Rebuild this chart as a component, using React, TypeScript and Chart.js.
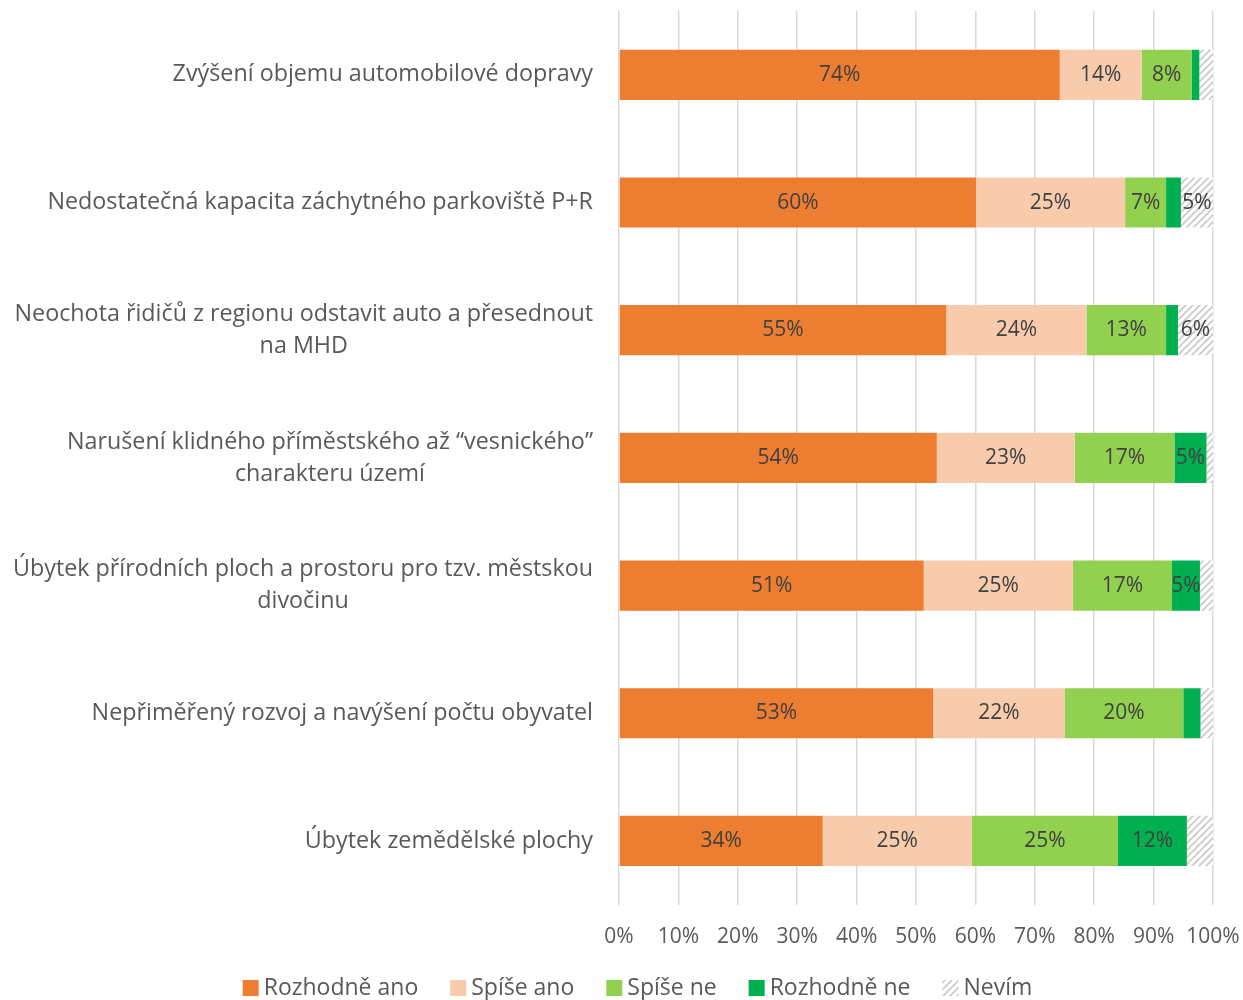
import React, { useEffect, useRef } from "react";
import { Chart, registerables } from "chart.js";
Chart.register(...registerables);

const categories: string[][] = [
  ["Zvýšení objemu automobilové dopravy"],
  ["Nedostatečná kapacita záchytného parkoviště P+R"],
  ["Neochota řidičů z regionu odstavit auto a přesednout", "na MHD"],
  ["Narušení klidného příměstského až “vesnického”", "charakteru území"],
  ["Úbytek přírodních ploch a prostoru pro tzv. městskou", "divočinu"],
  ["Nepřiměřený rozvoj a navýšení počtu obyvatel"],
  ["Úbytek zemědělské plochy"],
];
const seriesNames = ["Rozhodně ano", "Spíše ano", "Spíše ne", "Rozhodně ne", "Nevím"];
const rozhodneAno = [74.2, 60.1, 55.1, 53.5, 51.3, 52.9, 34.3];
const spiseAno = [13.8, 25.1, 23.6, 23.2, 25.1, 22.1, 25.1];
const spiseNe = [8.4, 6.9, 13.4, 16.8, 16.7, 20.0, 24.6];
const rozhodneNe = [1.3, 2.5, 2.0, 5.4, 4.7, 2.9, 11.6];
const nevim = [2.3, 5.4, 5.9, 1.1, 2.2, 2.1, 4.4];
const xTickValues = [0, 10, 20, 30, 40, 50, 60, 70, 80, 90, 100];

const FONT = "'Open Sans', 'Noto Sans', sans-serif";

function makeHatch(): CanvasPattern | string {
  const c = document.createElement("canvas");
  c.width = 7;
  c.height = 7;
  const g = c.getContext("2d");
  if (!g) return "#ddd";
  g.fillStyle = "#ffffff";
  g.fillRect(0, 0, 7, 7);
  g.strokeStyle = "#c9c9c9";
  g.lineWidth = 1.6;
  g.beginPath();
  g.moveTo(-1, 8);
  g.lineTo(8, -1);
  g.moveTo(-4, 4);
  g.lineTo(4, -4);
  g.moveTo(3, 11);
  g.lineTo(11, 3);
  g.stroke();
  const p = g.createPattern(c, "repeat");
  return p || "#ddd";
}

export default function App() {
  const ref = useRef<HTMLCanvasElement | null>(null);
  useEffect(() => {
    document.body.style.margin = "0";
    const canvas = ref.current;
    if (!canvas) return;
    const hatch = makeHatch();
    const colors: any[] = ["#ED7D31", "#F8CBAD", "#92D050", "#00B050", hatch];
    const values = [rozhodneAno, spiseAno, spiseNe, rozhodneNe, nevim];

    const yLabelPlugin = {
      id: "yLabels",
      afterDraw(chart: any) {
        const ctx = chart.ctx;
        const yScale = chart.scales.y;
        const right = chart.chartArea.left - 26;
        ctx.save();
        ctx.font = `23.3px ${FONT}`;
        ctx.fillStyle = "#595959";
        ctx.textAlign = "center";
        ctx.textBaseline = "middle";
        categories.forEach((lines, i) => {
          const y = yScale.getPixelForValue(i);
          const w = Math.max(...lines.map((l) => ctx.measureText(l).width));
          const cx = right - w / 2;
          lines.forEach((l, j) => {
            ctx.fillText(l, cx, y + (j - (lines.length - 1) / 2) * 32);
          });
        });
        ctx.restore();
      },
    };

    const legendPlugin = {
      id: "customLegend",
      afterDraw(chart: any) {
        const ctx = chart.ctx;
        const ds = chart.data.datasets;
        const box = 16;
        const textGap = 5;
        const itemGap = 32;
        ctx.save();
        ctx.font = `23px ${FONT}`;
        ctx.textBaseline = "middle";
        ctx.textAlign = "left";
        const widths = ds.map((d: any) => ctx.measureText(d.label).width);
        const total =
          widths.reduce((a: number, w: number) => a + box + textGap + w, 0) + itemGap * (ds.length - 1);
        let x = chart.width / 2 + 16 - total / 2;
        const y = chart.height - 12;
        ds.forEach((d: any, i: number) => {
          ctx.fillStyle = d.backgroundColor;
          ctx.fillRect(x, y - box / 2, box, box);
          ctx.fillStyle = "#595959";
          ctx.fillText(d.label, x + box + textGap, y);
          x += box + textGap + widths[i] + itemGap;
        });
        ctx.restore();
      },
    };

    const dataLabelPlugin = {
      id: "dataLabels",
      afterDatasetsDraw(chart: any) {
        const ctx = chart.ctx;
        ctx.save();
        ctx.font = `21px ${FONT}`;
        ctx.fillStyle = "#404040";
        ctx.textAlign = "center";
        ctx.textBaseline = "middle";
        chart.data.datasets.forEach((ds: any, di: number) => {
          const meta = chart.getDatasetMeta(di);
          meta.data.forEach((bar: any, i: number) => {
            const v = ds.data[i];
            if (v < 4.5) return;
            const x = (bar.x + bar.base) / 2;
            ctx.fillText(Math.round(v) + "%", x, bar.y);
          });
        });
        ctx.restore();
      },
    };

    const chart = new Chart(canvas, {
      type: "bar",
      data: {
        labels: categories.map((c) => c.join(" ")),
        datasets: seriesNames.map((name, i) => ({
          label: name,
          data: values[i],
          backgroundColor: colors[i],
          borderWidth: 0,
          barPercentage: 0.393,
          categoryPercentage: 1,
        })),
      },
      options: {
        indexAxis: "y",
        responsive: false,
        animation: false,
        layout: { padding: { left: 619, right: 30, top: 11, bottom: 50 } },
        scales: {
          x: {
            stacked: true,
            min: 0,
            max: 100,
            afterBuildTicks(scale: any) {
              scale.ticks = xTickValues.map((v) => ({ value: v }));
            },
            grid: {
              color: "#D9D9D9",
              lineWidth: 1.5,
              drawTicks: true,
              tickLength: 20,
              tickColor: "rgba(0,0,0,0)",
            },
            border: { display: false },
            ticks: {
              padding: 0,
              color: "#595959",
              font: { family: FONT, size: 21 },
              callback: (v: any) => v + "%",
            },
          },
          y: {
            stacked: true,
            display: false,
          },
        },
        plugins: {
          legend: { display: false },
          tooltip: { enabled: false },
        },
      },
      plugins: [yLabelPlugin, dataLabelPlugin, legendPlugin],
    } as any);
    return () => chart.destroy();
  }, []);
  return (
    <div style={{ width: 1243, height: 1000 }}>
      <canvas ref={ref} width={1243} height={1000} style={{ width: 1243, height: 1000, display: "block" }} />
    </div>
  );
}
